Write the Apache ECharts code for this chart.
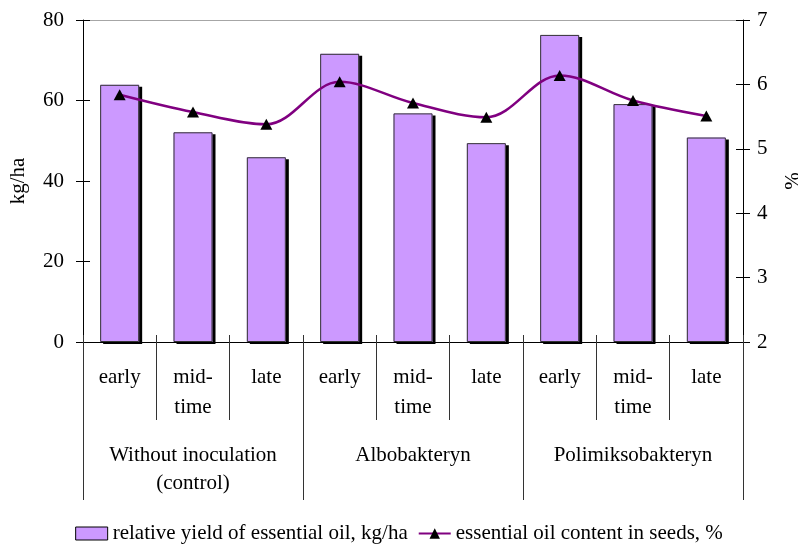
<!DOCTYPE html>
<html>
<head>
<meta charset="utf-8">
<script src="https://cdn.jsdelivr.net/npm/echarts@6/dist/echarts.min.js"></script>
<style>
  html, body { margin: 0; padding: 0; background: #fff; }
  #chart { width: 798px; height: 549px; }
</style>
</head>
<body>
<div id="chart"></div>
<script>
// sub-categories (sowing time) and treatment groups
const subCategories = ['early', 'mid-\ntime', 'late', 'early', 'mid-\ntime', 'late', 'early', 'mid-\ntime', 'late']
const groups = ['Without inoculation\n(control)', 'Albobakteryn', 'Polimiksobakteryn']

// relative yield of essential oil, kg/ha (left axis)
const yieldKgHa = [63.9, 52.1, 45.9, 71.6, 56.8, 49.4, 76.3, 59.1, 50.8]
// essential oil content in seeds, % (right axis)
const oilContent = [5.84, 5.57, 5.38, 6.04, 5.71, 5.49, 6.14, 5.75, 5.51]

const yieldName = 'relative yield of essential oil, kg/ha'
const oilName = 'essential oil content in seeds, %'

const font = 'Liberation Serif'
const txt = { color: '#000', fontFamily: font, fontSize: 21 }

const chart = echarts.init(document.getElementById('chart'))

const option = {
    animation: false,
    backgroundColor: '#fff',
    textStyle: { fontFamily: font, color: '#000' },
    grid: { left: 83, right: 55, top: 20, bottom: 207, containLabel: false, outerBoundsMode: 'none' },
    legend: {
        top: 518,
        left: 'center',
        itemWidth: 32,
        itemHeight: 13,
        itemGap: 10,
        textStyle: txt,
        data: [
            { name: yieldName, icon: 'rect', itemStyle: { color: '#cc99ff', borderColor: '#000', borderWidth: 1, shadowBlur: 0, shadowOffsetX: 0, shadowOffsetY: 0 } },
            { name: oilName }
        ]
    },
    xAxis: [
        {
            // main axis carrying the marks
            type: 'category',
            data: subCategories,
            axisLine: { lineStyle: { color: '#000', width: 1 } },
            axisTick: { show: false },
            axisLabel: { show: false }
        },
        {
            // sowing time labels with short dividers
            type: 'category',
            data: subCategories,
            position: 'bottom',
            offset: -7,
            axisLine: { show: false },
            axisTick: { show: true, interval: 0, length: 85, lineStyle: { color: '#333' } },
            axisLabel: { ...txt, interval: 0, margin: 27, lineHeight: 30 }
        },
        {
            // treatment group labels with long dividers
            type: 'category',
            data: groups,
            position: 'bottom',
            offset: -7,
            axisLine: { show: false },
            axisTick: { show: true, interval: 0, length: 165, lineStyle: { color: '#333' } },
            axisLabel: { ...txt, interval: 0, margin: 106, lineHeight: 28 }
        }
    ],
    yAxis: [
        {
            type: 'value',
            min: 0, max: 80, interval: 20,
            name: 'kg/ha',
            nameLocation: 'middle',
            nameGap: 54,
            nameRotate: 90,
            nameTextStyle: txt,
            axisLine: { show: true, lineStyle: { color: '#000' } },
            axisTick: { show: true, length: 7, lineStyle: { color: '#000' } },
            axisLabel: { ...txt, margin: 19 },
            splitLine: { show: true, lineStyle: { color: ['transparent', 'transparent', 'transparent', 'transparent', '#a6a6a6'], width: 1 } }
        },
        {
            type: 'value',
            position: 'right',
            min: 2, max: 7, interval: 1,
            name: '%',
            nameLocation: 'middle',
            nameGap: 40,
            nameRotate: 90,
            nameTextStyle: txt,
            axisLine: { show: true, lineStyle: { color: '#000' } },
            axisTick: { show: true, length: 7, lineStyle: { color: '#000' } },
            axisLabel: { ...txt, margin: 14 },
            splitLine: { show: false }
        },
        {
            // inner half of the crossing ticks, left
            type: 'value',
            position: 'left',
            min: 0, max: 80, interval: 20,
            axisLine: { show: false },
            axisTick: { show: true, inside: true, length: 7, lineStyle: { color: '#000' } },
            axisLabel: { show: false },
            splitLine: { show: false }
        },
        {
            // inner half of the crossing ticks, right
            type: 'value',
            position: 'right',
            min: 2, max: 7, interval: 1,
            axisLine: { show: false },
            axisTick: { show: true, inside: true, length: 7, lineStyle: { color: '#000' } },
            axisLabel: { show: false },
            splitLine: { show: false }
        }
    ],
    series: [
        {
            // filled bar with its drop shadow
            name: yieldName,
            type: 'bar',
            xAxisIndex: 0,
            yAxisIndex: 0,
            data: yieldKgHa,
            barWidth: 39,
            barGap: '-100%',
            itemStyle: {
                color: '#cc99ff',
                borderWidth: 0,
                shadowColor: '#000',
                shadowBlur: 0,
                shadowOffsetX: 3,
                shadowOffsetY: 2
            }
        },
        {
            // outline drawn over the same bars, without shadow
            name: 'outline',
            type: 'bar',
            xAxisIndex: 0,
            yAxisIndex: 0,
            data: yieldKgHa,
            barWidth: 39,
            barGap: '-100%',
            silent: true,
            z: 3,
            itemStyle: {
                color: 'transparent',
                borderColor: '#333',
                borderWidth: 1
            }
        },
        {
            name: oilName,
            type: 'line',
            xAxisIndex: 0,
            yAxisIndex: 1,
            data: oilContent,
            smooth: 0.35,
            symbol: 'triangle',
            symbolSize: [12, 11],
            z: 5,
            lineStyle: { color: '#800080', width: 2.5 },
            itemStyle: { color: '#000', borderWidth: 0 }
        }
    ]
}

chart.setOption(option)
</script>
</body>
</html>
